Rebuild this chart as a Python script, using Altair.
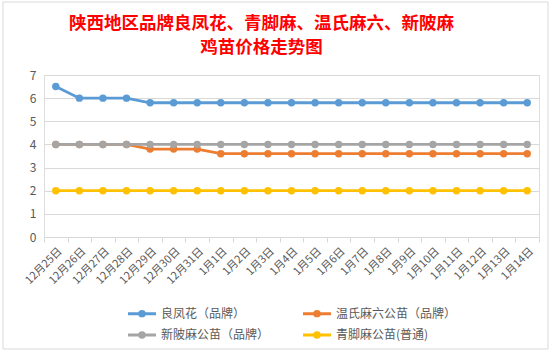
import altair as alt
import pandas as pd

dates = ["12月25日", "12月26日", "12月27日", "12月28日", "12月29日", "12月30日", "12月31日",
         "1月1日", "1月2日", "1月3日", "1月4日", "1月5日", "1月6日", "1月7日", "1月8日",
         "1月9日", "1月10日", "1月11日", "1月12日", "1月13日", "1月14日"]

# drawing order of the series
series_names = ["良凤花（品牌）", "温氏麻六公苗（品牌）", "新陂麻公苗（品牌）", "青脚麻公苗(普通)"]
colors = {"良凤花（品牌）": "#5B9BD5", "温氏麻六公苗（品牌）": "#ED7D31",
          "新陂麻公苗（品牌）": "#A5A5A5", "青脚麻公苗(普通)": "#FFC000"}
# legend order (column-major layout in two columns)
legend_order = ["良凤花（品牌）", "新陂麻公苗（品牌）", "温氏麻六公苗（品牌）", "青脚麻公苗(普通)"]

liangfenghua = [6.5, 6.0, 6.0, 6.0, 5.8, 5.8, 5.8, 5.8, 5.8, 5.8, 5.8, 5.8, 5.8, 5.8, 5.8, 5.8, 5.8, 5.8, 5.8, 5.8, 5.8]
wenshi = [4.0, 4.0, 4.0, 4.0, 3.8, 3.8, 3.8, 3.6, 3.6, 3.6, 3.6, 3.6, 3.6, 3.6, 3.6, 3.6, 3.6, 3.6, 3.6, 3.6, 3.6]
xinpi = [4.0] * 21
qingjiao = [2.0] * 21

rows = []
for name, vals in zip(series_names, [liangfenghua, wenshi, xinpi, qingjiao]):
    for i, (d, v) in enumerate(zip(dates, vals)):
        rows.append({"date": d, "series": name, "value": v, "idx": i})
df = pd.DataFrame(rows)

FONT = "Noto Sans CJK SC"
color_scale = alt.Scale(domain=legend_order, range=[colors[s] for s in legend_order])

x_enc = alt.X("date:N", sort=dates, bandPosition=0.5,
              scale=alt.Scale(type="band", paddingInner=0, paddingOuter=0),
              axis=alt.Axis(title=None, labelAngle=-45, labelFont=FONT, labelFontSize=11,
                            labelColor="#595959", domainColor="#D9D9D9", tickColor="#D9D9D9",
                            tickSize=5, tickBand="extent", grid=False, labelPadding=3))
y_enc = alt.Y("value:Q", scale=alt.Scale(domain=[0, 7], nice=False),
              axis=alt.Axis(title=None, values=[0, 1, 2, 3, 4, 5, 6, 7], domain=False, ticks=False,
                            labelFont=FONT, labelFontSize=12, labelColor="#595959",
                            gridColor="#D9D9D9", labelPadding=8))

legend = alt.Legend(title=None, orient="none", legendX=89.5, legendY=230, columns=2,
                    columnPadding=27, rowPadding=4.5, labelFont=FONT, labelFontSize=12,
                    labelColor="#595959",
                    symbolType="M-2,0H2M0.32,0A0.32,0.32 0 1,1 -0.32,0A0.32,0.32 0 1,1 0.32,0ZM0.12,0A0.12,0.12 0 1,1 -0.12,0A0.12,0.12 0 1,1 0.12,0Z",
                    symbolSize=196, symbolStrokeWidth=3, labelOffset=10.5)

base = alt.Chart(df)
lines = base.mark_line(strokeWidth=2.8).encode(
    x=x_enc, y=y_enc,
    color=alt.Color("series:N", scale=color_scale, legend=legend),
    order="idx:Q",
)
points = base.mark_circle(size=55, opacity=1).encode(
    x=x_enc, y=y_enc,
    color=alt.Color("series:N", scale=color_scale, legend=None),
)

border = alt.Chart(pd.DataFrame({"a": [0]})).mark_rect(fill=None, stroke="#D9D9D9", strokeWidth=1, clip=False).encode(
    x=alt.value(-41), x2=alt.value(504), y=alt.value(-73), y2=alt.value(274)
)

chart = alt.layer(border, lines, points).properties(
    width=495, height=162,
    title=alt.TitleParams(text=["陕西地区品牌良凤花、青脚麻、温氏麻六、新陂麻", "鸡苗价格走势图"],
                          font=FONT, fontSize=17.5, fontWeight="bold", color="#FF0000",
                          anchor="middle", frame="group", dx=-30, offset=-55, lineHeight=24),
    autosize="none",
    padding={"left": 44, "top": 75, "right": 18, "bottom": 116},
).configure_view(stroke=None).configure(background="white")

chart.save("out.html", embed_options={"renderer": "svg", "actions": False})
